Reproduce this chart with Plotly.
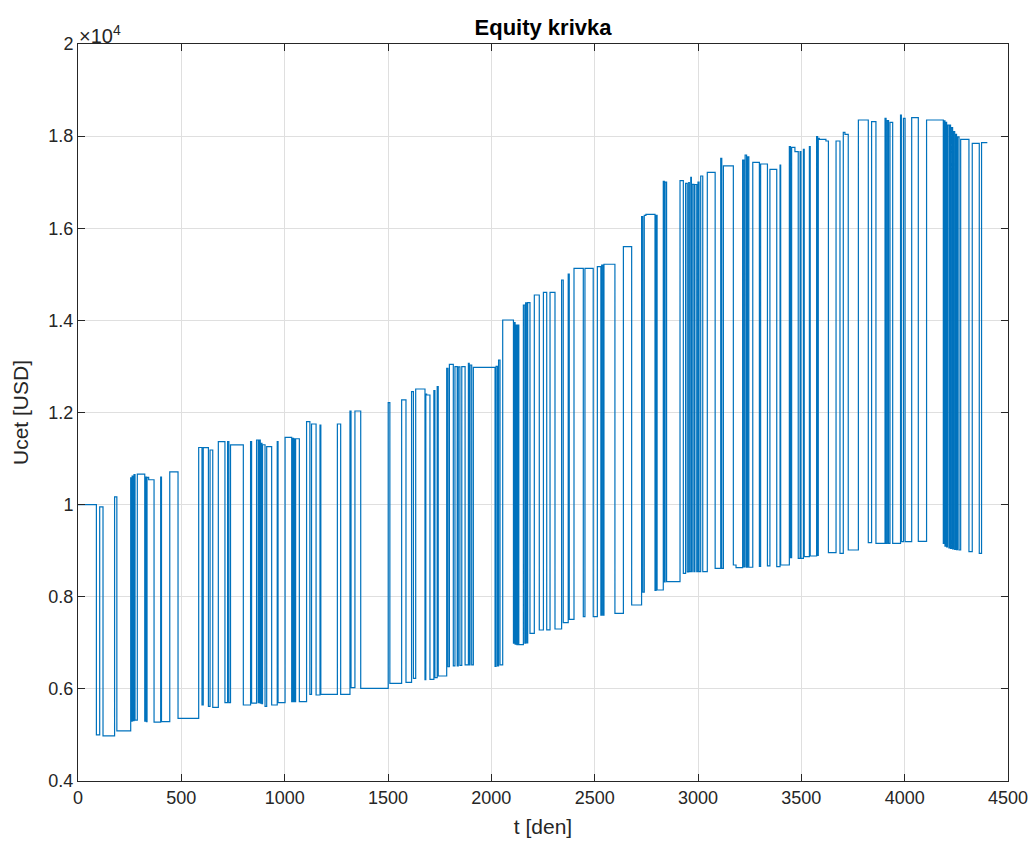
import plotly.graph_objects as go

t_den = [0, 89, 105, 121, 177, 188, 255, 259, 262, 267, 271, 276, 287, 323, 326, 331, 334, 342, 368, 400,
         404, 444, 484, 584, 600, 606, 631, 639, 652, 679, 711, 724, 730, 738, 800, 835, 840, 864, 872, 877,
         882, 885, 890, 893, 905, 913, 937, 964, 968, 1002, 1034, 1038, 1043, 1046, 1050, 1053, 1071, 1106,
         1122, 1130, 1152, 1171, 1175, 1255, 1271, 1316, 1321, 1340, 1368, 1501, 1509, 1566, 1587, 1614,
         1623, 1634, 1679, 1683, 1687, 1703, 1722, 1727, 1738, 1743, 1784, 1790, 1797, 1816, 1824, 1835,
         1840, 1848, 1857, 1873, 1889, 1893, 1897, 1905, 1913, 2018, 2023, 2030, 2035, 2042, 2055, 2107,
         2110, 2115, 2119, 2124, 2128, 2133, 2155, 2162, 2166, 2172, 2176, 2187, 2208, 2232, 2252, 2268,
         2284, 2308, 2340, 2348, 2372, 2377, 2400, 2445, 2453, 2493, 2513, 2530, 2534, 2540, 2545, 2598,
         2639, 2679, 2727, 2733, 2740, 2748, 2792, 2797, 2802, 2832, 2837, 2841, 2848, 2913, 2929, 2940,
         2948, 2955, 2958, 2965, 2968, 2972, 2980, 2985, 2994, 3000, 3005, 3013, 3023, 3045, 3083, 3110,
         3115, 3123, 3171, 3184, 3216, 3222, 3228, 3235, 3240, 3246, 3265, 3297, 3303, 3336, 3348, 3381,
         3397, 3400, 3442, 3447, 3453, 3469, 3485, 3494, 3498, 3510, 3514, 3539, 3543, 3574, 3579, 3582,
         3587, 3619, 3631, 3668, 3687, 3703, 3711, 3727, 3776, 3824, 3840, 3861, 3905, 3910, 3916, 3922,
         3929, 3942, 3980, 3984, 3994, 4002, 4034, 4066, 4106, 4187, 4190, 4195, 4199, 4203, 4207, 4214,
         4218, 4222, 4226, 4232, 4236, 4242, 4246, 4251, 4256, 4263, 4271, 4311, 4327, 4361, 4372, 4400]

ucet_usd = [10000, 5000, 9950, 4980, 10170, 5090, 10580, 5300, 10620, 5310, 10650, 5320, 10660, 5300, 10600,
            5290, 10590, 10540, 5280, 10600, 5290, 10710, 5360, 11240, 5650, 11237, 5620, 11186, 5600, 11367,
            5700, 11367, 5700, 11295, 5650, 11367, 5690, 11403, 5700, 11400, 5690, 11330, 5680, 11300, 5620,
            11258, 5650, 11367, 5700, 11462, 5720, 11440, 5720, 11430, 5720, 11430, 5722, 11801, 5880, 11750,
            5867, 11729, 5880, 11750, 5880, 12030, 6026, 12033, 6012, 12213, 6121, 12272, 6142, 12452, 6229,
            12510, 6200, 12400, 12380, 6207, 12474, 6243, 12561, 6280, 12960, 6480, 13046, 6500, 12995, 6500,
            12990, 6510, 12995, 6520, 13068, 6520, 13031, 6520, 12981, 6490, 13000, 6500, 13140, 6520, 14008,
            6990, 13950, 6970, 13900, 6960, 13900, 6960, 14334, 6990, 14380, 7000, 14384, 7206, 14551, 7278,
            14610, 7280, 14610, 7300, 14877, 7437, 15007, 7510, 15131, 7567, 15131, 7567, 15166, 7600, 15200,
            7600, 15218, 7641, 15600, 7821, 16251, 8100, 16280, 16303, 8140, 16280, 8147, 17020, 8320, 17000,
            8327, 17033, 8509, 16975, 8540, 16990, 8545, 17106, 8545, 16954, 8545, 16950, 8545, 17000, 8545,
            17134, 8545, 17215, 8617, 17518, 8617, 17352, 8689, 8631, 17482, 8650, 17590, 8640, 17550, 8640,
            17432, 8660, 17395, 8670, 17280, 8653, 17373, 8689, 17771, 8850, 17757, 17662, 8835, 17662, 8835,
            17714, 8870, 17771, 8885, 17988, 8900, 17950, 17931, 17894, 8957, 17894, 8943, 18083, 18040, 9015,
            18350, 9174, 18314, 9160, 18386, 9160, 18336, 9160, 18300, 9160, 18459, 9196, 18386, 9196, 18400,
            9203, 18350, 9160, 18330, 9100, 18300, 9080, 18242, 9060, 18242, 9050, 18184, 9040, 18100, 9030,
            18040, 9020, 17982, 9015, 17931, 8980, 17844, 8943, 17858, 17858]

x_ticks = [0, 500, 1000, 1500, 2000, 2500, 3000, 3500, 4000, 4500]
y_ticks = [4000, 6000, 8000, 10000, 12000, 14000, 16000, 18000, 20000]
y_tick_text = ["0.4", "0.6", "0.8", "1", "1.2", "1.4", "1.6", "1.8", "2"]

FONT = "Liberation Sans, Arial, Helvetica, sans-serif"
AX = "#262626"

fig = go.Figure()
fig.add_trace(go.Scatter(x=t_den, y=ucet_usd, mode="lines", line_shape="hv",
                         line=dict(color="#0072BD", width=1.2), showlegend=False))

# page body adds an 8px offset; margins compensate so plot area sits at x 78-1008, y 44-781 on the page
fig.update_layout(
    width=1036, height=843,
    margin=dict(l=70, r=36, t=36, b=70, autoexpand=False),
    paper_bgcolor="white", plot_bgcolor="white",
    font=dict(family=FONT, color=AX, size=18),
    title=dict(text="<b>Equity krivka</b>", x=0.5, xanchor="center", xref="paper",
               y=1 - 19 / 843, yanchor="middle", font=dict(size=22, color="black")),
)
common = dict(showline=True, linecolor=AX, linewidth=1, mirror="ticks", ticks="inside",
              ticklen=7, tickcolor=AX, showgrid=True, gridcolor="#dfdfdf", gridwidth=1,
              zeroline=False, tickfont=dict(size=18, color=AX))
fig.update_xaxes(range=[0, 4500], tickvals=x_ticks, ticktext=[str(v) for v in x_ticks],
                 title=dict(text="t [den]", font=dict(size=21, color=AX), standoff=12), **common)
fig.update_yaxes(range=[4000, 20000], tickvals=y_ticks, ticktext=y_tick_text,
                 title=dict(text="Ucet [USD]", font=dict(size=21, color=AX), standoff=14), **common)
fig.add_annotation(text="×10<sup>4</sup>", xref="paper", yref="paper", x=0, y=1, xanchor="left",
                   yanchor="bottom", showarrow=False, font=dict(size=20, color=AX), xshift=-1, yshift=-5)

fig.write_html("out.html")
